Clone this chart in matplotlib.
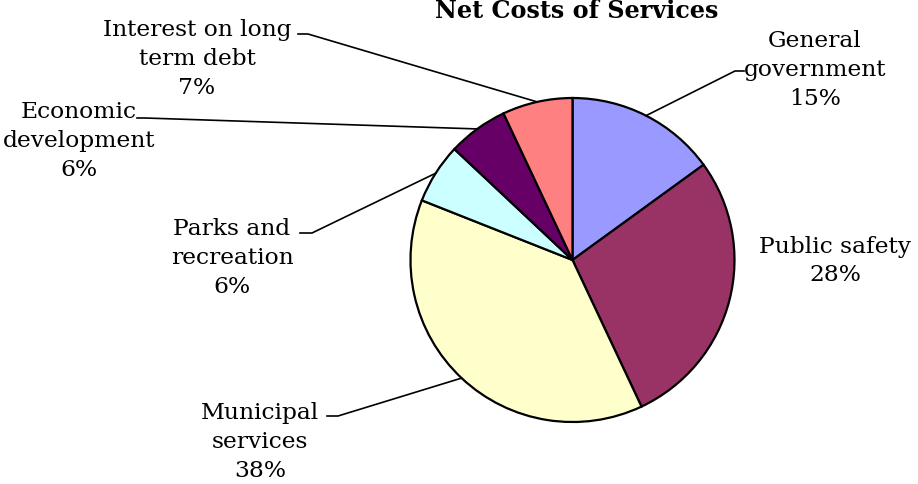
import matplotlib
matplotlib.use("Agg")
import matplotlib.pyplot as plt
import numpy as np

plt.rcParams["font.family"] = ["DejaVu Serif"]

# Net costs of services, share of total (%)
categories = ["General\ngovernment", "Public safety", "Municipal\nservices",
              "Parks and\nrecreation", "Economic\ndevelopment",
              "Interest on long\nterm debt"]
shares = [15, 28, 38, 6, 6, 7]
colors = ["#9999FF", "#993366", "#FFFFCC", "#CCFFFF", "#660066", "#FF8080"]
title = "Net Costs of Services"

W, H = 918, 485
fig = plt.figure(figsize=(W / 100, H / 100), dpi=100)
ax = fig.add_axes([0, 0, 1, 1])

# pie placement in canvas pixels (y measured from the top)
cx, cy_top, R = 572.5, 261, 162
cy = H - cy_top

wedges, _ = ax.pie(shares, colors=colors, startangle=90, counterclock=False,
                   center=(cx, cy), radius=R, frame=False,
                   wedgeprops=dict(edgecolor="black", linewidth=1.6))
ax.set_xlim(0, W)
ax.set_ylim(0, H)
ax.set_aspect("equal")
ax.axis("off")

# label block centre, leader elbow and tick end (pixels, y from top)
label_layout = [
    dict(pos=(815, 70), elbow=(735, 72), tick=744),
    dict(pos=(835, 261), elbow=None, tick=None),
    dict(pos=(260, 442), elbow=(338, 417), tick=327),
    dict(pos=(232, 258), elbow=(312, 234), tick=300),
    dict(pos=(79, 141), elbow=(145, 119), tick=137),
    dict(pos=(197, 59), elbow=(308, 35), tick=298),
]

for w, name, val, lay in zip(wedges, categories, shares, label_layout):
    tx, ty = lay["pos"]
    ax.text(tx, H - ty, f"{name}\n{val}%", ha="center", va="center",
            fontsize=16.8, linespacing=1.4, color="black")
    if lay["elbow"] is not None:
        mid = np.deg2rad((w.theta1 + w.theta2) / 2)
        ex, ey = cx + R * np.cos(mid), cy + R * np.sin(mid)
        bx, by = lay["elbow"]
        ax.plot([ex, bx, lay["tick"]], [ey, H - by, H - by],
                color="black", linewidth=1.2, solid_joinstyle="miter")

ax.text(577, H - 18, title, ha="center", va="baseline",
        fontsize=17.2, fontweight="bold", color="black")

fig.savefig("out.png", dpi=100, facecolor="white")
